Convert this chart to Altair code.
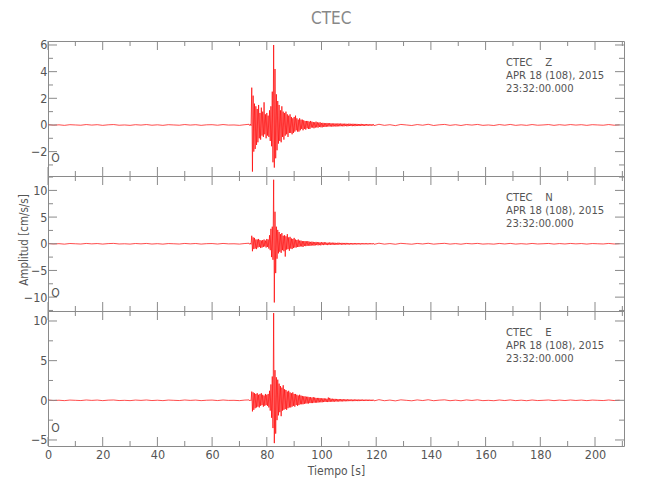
import altair as alt
import pandas as pd

FONT = "Liberation Sans Narrow, DejaVu Sans Condensed, sans-serif"
TXT = "#555555"
FRAME = "#8a8a8a"
RED = "#ff0000"

# sampling of the three trace segments (s)
pre_start, pre_step = 0.0, 2.0
act_start, act_step = 73.5, 0.25
tail_start, tail_step = 121.0, 2.0

# ---------------- Z component ----------------
z_pre = [0.03, -0.02, 0.01, -0.03, 0.02, 0.0, -0.02, 0.03,
         -0.01, 0.02, -0.03, 0.01, 0.03, -0.02, 0.0, -0.03,
         0.02, -0.01, 0.03, -0.02, 0.01, -0.03, 0.02, 0.0,
         -0.02, 0.03, -0.01, 0.02, -0.03, 0.01, 0.02, -0.02,
         0.03, -0.01, 0.0, -0.03, 0.02]
z_act = [0.05, -0.04, 0.06, -0.05,
         2.8, -3.5, 2.2, -2.0, 1.6, -1.8, 1.4, -1.5,
         1.2, -1.3, 1.5, -1.0, 0.9, -1.1, 1.3, -0.8,
         1.0, -0.9, 1.7, -0.7, 0.8, -1.0, 0.9, -0.8,
         0.7, -0.9, 1.1, -1.2, 1.4, -1.6, 2.5, -2.8,
         6.0, -3.2, 4.2, -2.5, 2.3, -1.9, 1.8, -1.4,
         1.5, -1.2, 1.1, -1.3, 1.4, -0.9, 1.0, -1.1,
         0.9, -0.8, 1.0, -0.7, 0.8, -0.9, 0.7, -0.6,
         0.8, -0.6, 0.6, -0.7, 0.5, -0.6, 0.6, -0.5,
         0.7, -0.4, 0.5, -0.5, 0.4, -0.5, 0.5, -0.4,
         0.4, -0.3, 0.4, -0.4, 0.35, -0.3, 0.3, -0.35,
         0.3, -0.25, 0.3, -0.3, 0.25, -0.3, 0.3, -0.2,
         0.25, -0.2, 0.22, -0.25, 0.2, -0.2, 0.25, -0.18,
         0.2, -0.2, 0.18, -0.15, 0.2, -0.17, 0.15, -0.18,
         0.16, -0.14, 0.15, -0.15, 0.13, -0.14, 0.15, -0.12,
         0.13, -0.12, 0.14, -0.11, 0.12, -0.13, 0.11, -0.12,
         0.12, -0.1, 0.11, -0.12, 0.1, -0.11, 0.12, -0.1,
         0.1, -0.1, 0.11, -0.09, 0.1, -0.1, 0.09, -0.1,
         0.1, -0.08, 0.09, -0.1, 0.08, -0.09, 0.1, -0.08,
         0.09, -0.08, 0.08, -0.09, 0.09, -0.08, 0.08, -0.09,
         0.08, -0.07, 0.08, -0.08, 0.07, -0.08, 0.07, -0.07,
         0.08, -0.06, 0.07, -0.07, 0.06, -0.07, 0.06, -0.06,
         0.07, -0.05, 0.06, -0.06, 0.05, -0.06, 0.05, -0.05,
         0.06, -0.05, 0.05, -0.05]
z_tail = [0.05, -0.03, 0.02, -0.05, 0.04, 0.0, -0.04, 0.03,
          -0.02, 0.05, -0.04, 0.01, 0.04, -0.03, 0.02, -0.04,
          0.03, -0.01, 0.04, -0.03, 0.0, -0.04, 0.03, -0.02,
          0.04, -0.03, 0.01, -0.03, 0.03, -0.02, 0.0, 0.03,
          -0.03, 0.02, -0.02, 0.03, -0.01, 0.02, -0.03, 0.02,
          0.0, -0.02, 0.03, -0.02, 0.01]

# ---------------- N component ----------------
n_pre = [0.06, -0.04, 0.02, -0.07, 0.05, 0.0, -0.05, 0.06,
         -0.02, 0.04, -0.06, 0.03, 0.07, -0.04, 0.0, -0.06,
         0.05, -0.02, 0.06, -0.05, 0.02, -0.07, 0.04, 0.0,
         -0.05, 0.06, -0.02, 0.05, -0.06, 0.02, 0.04, -0.05,
         0.06, -0.02, 0.0, -0.06, 0.05]
n_act = [0.1, -0.1, 0.12, -0.1,
         1.5, -1.4, 1.2, -1.0, 1.1, -0.9, 0.8, -1.0,
         0.8, -0.7, 0.9, -0.6, 0.7, -0.8, 0.6, -0.7,
         0.7, -0.6, 0.8, -0.5, 0.6, -0.7, 0.9, -0.6,
         0.8, -0.9, 1.6, -1.2, 2.8, -2.5, 3.2, -3.0,
         12.0, -11.0, 6.0, -5.5, 3.2, -2.8, 2.6, -1.8,
         2.2, -1.5, 1.8, -1.7, 2.0, -1.2, 1.5, -1.4,
         1.6, -2.4, 1.4, -1.1, 1.8, -1.0, 1.2, -1.3,
         1.3, -0.9, 1.0, -1.0, 0.9, -0.8, 1.1, -0.7,
         0.8, -0.7, 0.7, -0.6, 0.8, -0.6, 0.6, -0.5,
         0.6, -0.5, 0.5, -0.6, 0.5, -0.4, 0.5, -0.45,
         0.45, -0.4, 0.5, -0.35, 0.4, -0.4, 0.35, -0.35,
         0.4, -0.3, 0.35, -0.35, 0.3, -0.3, 0.35, -0.25,
         0.3, -0.3, 0.3, -0.25, 0.25, -0.3, 0.3, -0.2,
         0.25, -0.25, 0.3, -0.2, 0.25, -0.2, 0.2, -0.25,
         0.2, -0.2, 0.25, -0.2, 0.2, -0.18, 0.2, -0.2,
         0.2, -0.18, 0.18, -0.2, 0.15, -0.18, 0.2, -0.15,
         0.18, -0.15, 0.15, -0.18, 0.17, -0.15, 0.15, -0.16,
         0.15, -0.15, 0.16, -0.13, 0.15, -0.15, 0.13, -0.14,
         0.14, -0.13, 0.13, -0.14, 0.13, -0.12, 0.13, -0.13,
         0.12, -0.12, 0.13, -0.11, 0.12, -0.12, 0.11, -0.12,
         0.12, -0.11, 0.11, -0.11, 0.12, -0.1, 0.11, -0.11,
         0.1, -0.11, 0.11, -0.1, 0.1, -0.1, 0.11, -0.09,
         0.1, -0.1, 0.09, -0.1]
n_tail = [0.1, -0.07, 0.04, -0.09, 0.08, 0.0, -0.08, 0.06,
          -0.04, 0.09, -0.07, 0.02, 0.08, -0.06, 0.03, -0.08,
          0.06, -0.02, 0.07, -0.06, 0.0, -0.07, 0.06, -0.04,
          0.07, -0.06, 0.02, -0.06, 0.06, -0.04, 0.0, 0.06,
          -0.06, 0.04, -0.04, 0.06, -0.02, 0.04, -0.06, 0.04,
          0.0, -0.04, 0.06, -0.04, 0.02]

# ---------------- E component ----------------
e_pre = [0.04, -0.03, 0.01, -0.04, 0.03, 0.0, -0.03, 0.04,
         -0.01, 0.03, -0.04, 0.02, 0.04, -0.03, 0.0, -0.04,
         0.03, -0.01, 0.04, -0.03, 0.01, -0.04, 0.03, 0.0,
         -0.03, 0.04, -0.01, 0.03, -0.04, 0.01, 0.03, -0.03,
         0.04, -0.01, 0.0, -0.04, 0.03]
e_act = [0.05, -0.06, 0.05, -0.05,
         1.1, -1.4, 1.0, -1.2, 0.9, -1.0, 0.8, -0.9,
         0.9, -0.8, 0.7, -0.9, 0.8, -0.7, 0.9, -0.6,
         0.7, -0.8, 0.6, -0.7, 0.8, -0.6, 0.7, -0.7,
         0.8, -0.9, 1.2, -1.3, 2.0, -2.2, 3.0, -3.5,
         11.0, -5.4, 3.8, -4.2, 2.9, -2.5, 2.6, -1.9,
         2.1, -1.5, 1.8, -2.0, 1.6, -1.3, 1.9, -1.2,
         1.4, -1.1, 1.3, -1.2, 1.1, -1.0, 1.2, -0.9,
         1.0, -0.9, 0.9, -0.8, 1.0, -0.7, 0.8, -0.8,
         0.8, -0.6, 0.7, -0.7, 0.6, -0.6, 0.7, -0.5,
         0.6, -0.5, 0.55, -0.5, 0.5, -0.45, 0.5, -0.4,
         0.45, -0.4, 0.45, -0.4, 0.4, -0.35, 0.4, -0.35,
         0.35, -0.35, 0.4, -0.3, 0.35, -0.3, 0.3, -0.3,
         0.3, -0.28, 0.3, -0.25, 0.28, -0.25, 0.25, -0.25,
         0.25, -0.22, 0.25, -0.2, 0.22, -0.2, 0.2, -0.22,
         0.35, -0.2, 0.3, -0.18, 0.2, -0.18, 0.2, -0.18,
         0.18, -0.17, 0.18, -0.15, 0.17, -0.16, 0.15, -0.15,
         0.15, -0.14, 0.15, -0.13, 0.14, -0.14, 0.13, -0.12,
         0.13, -0.12, 0.12, -0.12, 0.12, -0.11, 0.12, -0.1,
         0.11, -0.1, 0.1, -0.11, 0.1, -0.1, 0.11, -0.1,
         0.1, -0.09, 0.1, -0.1, 0.09, -0.1, 0.09, -0.09,
         0.1, -0.08, 0.09, -0.09, 0.08, -0.09, 0.09, -0.08,
         0.08, -0.08, 0.09, -0.08, 0.08, -0.08, 0.07, -0.08,
         0.08, -0.07, 0.07, -0.07]
e_tail = [0.08, -0.05, 0.03, -0.07, 0.06, 0.0, -0.06, 0.05,
          -0.03, 0.07, -0.05, 0.02, 0.06, -0.05, 0.02, -0.06,
          0.05, -0.02, 0.06, -0.04, 0.0, -0.05, 0.04, -0.03,
          0.05, -0.04, 0.02, -0.05, 0.04, -0.03, 0.0, 0.04,
          -0.04, 0.03, -0.03, 0.04, -0.02, 0.03, -0.04, 0.03,
          0.0, -0.03, 0.04, -0.03, 0.01]

# ---------------- axes ----------------
x_domain = [0, 210.6]
x_major = [0, 20, 40, 60, 80, 100, 120, 140, 160, 180, 200]
x_minor = [10, 30, 50, 70, 90, 110, 130, 150, 170, 190, 210]

z_domain = [-3.83, 6.3]
z_major = [-2, 0, 2, 4, 6]
z_minor = [-3, -1, 1, 3, 5]
n_domain = [-12.6, 12.7]
n_major = [-10, -5, 0, 5, 10]
n_minor = [-12.5, -7.5, -2.5, 2.5, 7.5, 12.5]
e_domain = [-5.76, 11.26]
e_major = [-5, 0, 5, 10]
e_minor = [-2.5, 2.5, 7.5]

station = "CTEC"
date_line = "APR 18 (108), 2015"
time_line = "23:32:00.000"

W, H = 576, 135
MAJ, MIN = 9, 5


def trace_frame(pre, act, tail):
    t = [pre_start + i * pre_step for i in range(len(pre))]
    t += [act_start + i * act_step for i in range(len(act))]
    t += [tail_start + i * tail_step for i in range(len(tail))]
    return pd.DataFrame({"t": t, "a": pre + act + tail})


def panel(comp, pre, act, tail, domain, major, minor, show_x, ytitle):
    xs = alt.Scale(domain=x_domain, nice=False, zero=False)
    ys = alt.Scale(domain=domain, nice=False, zero=False)
    ykw = dict(values=major, ticks=False, domain=False, grid=False,
               labelPadding=1, labelFont=FONT, labelFontSize=12.5,
               labelColor=TXT, title=None)
    if ytitle:
        ykw.update(title=ytitle, titleFont=FONT, titleFontSize=11.5,
                   titleFontWeight="normal", titleColor=TXT, titleX=-19,
                   titleY=H / 2 - 4)
    yax = alt.Axis(**ykw)
    if show_x:
        xax = alt.Axis(values=x_major, ticks=False, domain=False, grid=False,
                       labelPadding=2, labelFont=FONT, labelFontSize=12.5,
                       labelColor=TXT, labelFlush=False, title="Tiempo [s]",
                       titleFont=FONT, titleFontSize=12,
                       titleFontWeight="normal", titleColor=TXT,
                       titlePadding=5)
    else:
        xax = alt.Axis(values=x_major, ticks=False, domain=False, grid=False,
                       labels=False, title=None, minExtent=0, maxExtent=0,
                       labelPadding=0, titlePadding=0)
    line = alt.Chart(trace_frame(pre, act, tail)).mark_line(
        color=RED, strokeWidth=0.7, clip=True
    ).encode(
        x=alt.X("t:Q", scale=xs, axis=xax),
        y=alt.Y("a:Q", scale=ys, axis=yax),
    )
    layers = [line]
    for vals, ln in ((x_major, MAJ), (x_minor, MIN)):
        d = pd.DataFrame({"v": vals})
        for y0, y1 in ((H, H - ln), (0, ln)):
            layers.append(alt.Chart(d).mark_rule(color=FRAME, strokeWidth=1).encode(
                x=alt.X("v:Q", scale=xs, axis=xax),
                y=alt.value(y0), y2=alt.value(y1)))
    for vals, ln in ((major, MAJ), (minor, MIN)):
        d = pd.DataFrame({"v": vals})
        for x0, x1 in ((0, ln), (W, W - ln)):
            layers.append(alt.Chart(d).mark_rule(color=FRAME, strokeWidth=1).encode(
                y=alt.Y("v:Q", scale=ys, axis=yax),
                x=alt.value(x0), x2=alt.value(x1)))
    label = "\u00a0\u00a0\u00a0\u00a0".join([station, comp])
    for i, s in enumerate([label, date_line, time_line]):
        layers.append(alt.Chart(pd.DataFrame({"s": [s]})).mark_text(
            align="left", baseline="middle", font=FONT, fontSize=11.2, color=TXT
        ).encode(x=alt.value(458), y=alt.value(21.5 + 13.3 * i), text="s:N"))
    layers.append(alt.Chart(pd.DataFrame({"s": ["O"]})).mark_text(
        align="center", baseline="middle", font=FONT, fontSize=12, color=TXT
    ).encode(x=alt.value(7.5), y=alt.value(117), text="s:N"))
    return alt.layer(*layers).properties(width=W, height=H)


p1 = panel("Z", z_pre, z_act, z_tail, z_domain, z_major, z_minor, False, None)
p2 = panel("N", n_pre, n_act, n_tail, n_domain, n_major, n_minor, False,
           "Amplitud [cm/s/s]")
p3 = panel("E", e_pre, e_act, e_tail, e_domain, e_major, e_minor, True, None)

chart = alt.vconcat(p1, p2, p3, spacing=0, bounds="flush").properties(
    title=alt.TitleParams(station, font=FONT, fontSize=17, fontWeight="normal",
                          color="#888888", offset=10, anchor="middle", dx=10),
    padding={"left": 9, "top": 2, "right": 5, "bottom": 5},
).configure_view(stroke=FRAME, strokeWidth=1)

chart.save("out.html", embed_options={"renderer": "svg", "actions": False})
